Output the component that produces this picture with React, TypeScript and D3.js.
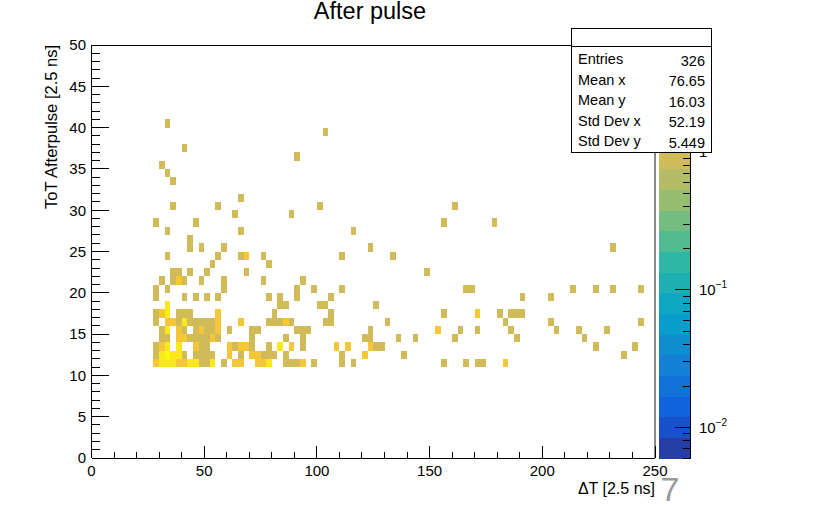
import React from "react";
import * as d3 from "d3";

const W = 820;
const H = 505;
const frame = { left: 91.5, right: 655, top: 45, bottom: 458 };
const palette = { left: 658.5, right: 690.5 };

// Histogram binning
const dtDomain: [number, number] = [0, 250];
const totDomain: [number, number] = [0, 50];
const dtBinWidth = 2.5;
const totBinWidth = 1;

// ToT bin (lower edge) of each filled row
const totBins = [40, 39, 37, 36, 35, 34, 33, 31, 30, 29, 28, 27, 26, 25, 24, 23, 22, 21, 20, 19, 18, 17, 16, 15, 14, 13, 12, 11];

// Filled ΔT bins in each row: [ΔT bin index, entries]
const dtBinsPerRow: [number, number][][] = [
  [[13, 1]],
  [[41, 1]],
  [[16, 1]],
  [[36, 1]],
  [[12, 1]],
  [[13, 1]],
  [[14, 1]],
  [[26, 1]],
  [[14, 1], [22, 1], [40, 1], [64, 1]],
  [[25, 1], [35, 1]],
  [[11, 1], [18, 1], [62, 1], [71, 1]],
  [[13, 1], [26, 1], [46, 1]],
  [[17, 1]],
  [[17, 1], [19, 1], [23, 1], [49, 1], [92, 1]],
  [[13, 1], [22, 1], [26, 1], [27, 2], [30, 1], [44, 1], [53, 1]],
  [[21, 1], [31, 1]],
  [[14, 1], [15, 1], [17, 1], [20, 1], [27, 1], [59, 1]],
  [[12, 1], [14, 1], [15, 2], [16, 1], [19, 1], [23, 1], [30, 1], [37, 1]],
  [[11, 1], [13, 1], [23, 1], [36, 1], [39, 1], [44, 1], [66, 1], [67, 1], [85, 1], [89, 1], [92, 1], [97, 1]],
  [[11, 1], [16, 1], [18, 1], [20, 1], [22, 1], [31, 1], [33, 1], [36, 1], [42, 1], [76, 1], [81, 1]],
  [[13, 4], [33, 1], [34, 1], [40, 1], [41, 1], [50, 1]],
  [[11, 1], [12, 2], [13, 4], [15, 1], [16, 1], [17, 1], [22, 2], [32, 1], [42, 1], [62, 1], [68, 2], [72, 1], [74, 1], [75, 1], [76, 1]],
  [[11, 1], [13, 2], [14, 2], [15, 1], [16, 4], [17, 1], [18, 1], [19, 1], [20, 1], [21, 1], [22, 2], [26, 2], [31, 1], [32, 1], [33, 1], [34, 2], [35, 1], [41, 1], [42, 1], [52, 1], [73, 1], [81, 1], [97, 1]],
  [[12, 1], [13, 4], [15, 2], [16, 1], [18, 1], [19, 2], [20, 1], [21, 1], [22, 2], [24, 1], [28, 1], [29, 1], [36, 1], [37, 1], [38, 1], [49, 1], [61, 2], [65, 1], [68, 1], [74, 1], [82, 1], [86, 1], [91, 1]],
  [[12, 1], [13, 1], [15, 2], [16, 2], [17, 1], [18, 1], [19, 1], [20, 1], [21, 2], [22, 1], [28, 1], [34, 1], [37, 1], [48, 1], [49, 1], [54, 1], [57, 1], [64, 1], [75, 1], [87, 1]],
  [[11, 1], [12, 2], [13, 4], [15, 4], [18, 2], [19, 1], [20, 1], [24, 2], [25, 1], [26, 2], [27, 2], [28, 1], [31, 1], [33, 4], [35, 2], [37, 1], [43, 2], [45, 2], [49, 2], [50, 1], [51, 1], [89, 1], [96, 1]],
  [[11, 1], [12, 4], [13, 6], [14, 4], [15, 3], [16, 1], [18, 1], [19, 1], [20, 1], [21, 1], [24, 2], [26, 1], [28, 2], [29, 2], [30, 1], [31, 1], [32, 1], [34, 1], [44, 1], [48, 2], [55, 1], [94, 1]],
  [[11, 2], [12, 4], [13, 4], [14, 4], [15, 2], [16, 2], [17, 4], [18, 4], [19, 1], [20, 1], [21, 3], [23, 1], [25, 2], [26, 2], [29, 2], [30, 2], [31, 4], [34, 1], [35, 1], [36, 1], [37, 2], [39, 1], [44, 1], [46, 1], [62, 1], [66, 1], [68, 1], [69, 1], [73, 2]],
];

// Statistics panel
const statLabels = ["Entries", "Mean x", "Mean y", "Std Dev x", "Std Dev y"];
const statValues = ["326", "76.65", "16.03", "52.19", "5.449"];

// Axis ticks
const dtMajorTicks = [0, 50, 100, 150, 200, 250];
const totMajorTicks = [0, 5, 10, 15, 20, 25, 30, 35, 40, 45, 50];
const zLabels: [number, string, string][] = [
  [1, "1", ""],
  [0.1, "10", "\u22121"],
  [0.01, "10", "\u22122"],
];

// Colour scale (log z)
const zMin = 0.006;
const zMax = 6;
const nContours = 20;
const nColors = 255;

// Bird palette gradient stops
const birdStops = [0.0, 0.125, 0.25, 0.375, 0.5, 0.625, 0.75, 0.875, 1.0];
const birdRed = [0.2082, 0.0592, 0.078, 0.0232, 0.1802, 0.5301, 0.8186, 0.9956, 0.9764];
const birdGreen = [0.1664, 0.3599, 0.5041, 0.6419, 0.7178, 0.7492, 0.7328, 0.7862, 0.9832];
const birdBlue = [0.5293, 0.8684, 0.8385, 0.7914, 0.6425, 0.4662, 0.3499, 0.1968, 0.0539];

const font = "'Liberation Sans', Arial, Helvetica, sans-serif";

function birdColor(f: number): string {
  const r = d3.scaleLinear(birdStops, birdRed).clamp(true)(f);
  const g = d3.scaleLinear(birdStops, birdGreen).clamp(true)(f);
  const b = d3.scaleLinear(birdStops, birdBlue).clamp(true)(f);
  return d3.rgb(r * 255, g * 255, b * 255).formatHex();
}

function bandColor(band: number): string {
  const idx = Math.floor((band + 0.99) * nColors / nContours);
  return birdColor(idx / (nColors - 1));
}

function bandOf(z: number): number {
  const lz = Math.log10(z);
  const l0 = Math.log10(zMin);
  const l1 = Math.log10(zMax);
  const b = Math.floor(0.01 + (lz - l0) * nContours / (l1 - l0));
  return Math.max(0, Math.min(nContours - 1, b));
}

export default function App() {
  const x = d3.scaleLinear().domain(dtDomain).range([frame.left, frame.right]);
  const y = d3.scaleLinear().domain(totDomain).range([frame.bottom, frame.top]);
  const z = d3.scaleLog().domain([zMin, zMax]).range([frame.bottom, frame.top]);

  const cells = totBins.flatMap((tot, r) =>
    dtBinsPerRow[r].map(([bin, n]) => ({ dt: bin * dtBinWidth, tot, n }))
  );

  const dtMinor = d3.range(dtDomain[0], dtDomain[1] + 0.001, 10);
  const totMinor = d3.range(totDomain[0], totDomain[1] + 0.001, 1);

  const zMinorTicks: number[] = [];
  for (let e = -3; e <= 0; e++) {
    for (let m = 1; m <= 9; m++) {
      const v = m * Math.pow(10, e);
      if (v >= zMin && v <= zMax) zMinorTicks.push(v);
    }
  }

  const bandH = (frame.bottom - frame.top) / nContours;
  const bands = d3.range(nContours);

  const statBox = { left: 571, right: 711, top: 28, bottom: 152, divider: 46 };
  const statRowY = [59, 79.5, 100, 120.5, 141];

  return (
    <svg
      width={W}
      height={H}
      viewBox={`0 0 ${W} ${H}`}
      style={{ position: "absolute", left: 0, top: 0, background: "#fff" }}
      fontFamily={font}
    >
      <rect x={0} y={0} width={W} height={H} fill="#fff" />

      {/* title */}
      <text x={370} y={19} textAnchor="middle" fontSize={23.5} fill="#000">
        After pulse
      </text>

      {/* histogram cells */}
      <g shapeRendering="crispEdges">
        {cells.map((c, i) => (
          <rect
            key={i}
            x={x(c.dt)}
            y={y(c.tot + totBinWidth)}
            width={x(c.dt + dtBinWidth) - x(c.dt)}
            height={y(c.tot) - y(c.tot + totBinWidth)}
            fill={bandColor(bandOf(c.n))}
          />
        ))}
      </g>

      {/* frame */}
      <g shapeRendering="crispEdges" fill="none">
        <line x1={frame.left} x2={frame.right} y1={frame.top} y2={frame.top} stroke="#000" />
        <line x1={frame.right} x2={frame.right} y1={frame.top} y2={frame.bottom} stroke="#888" strokeWidth={2} />
        <line x1={frame.left} x2={frame.left} y1={frame.top} y2={frame.bottom} stroke="#000" />
        <line x1={frame.left} x2={frame.right} y1={frame.bottom} y2={frame.bottom} stroke="#000" />
      </g>

      {/* x axis ticks */}
      <g stroke="#000" shapeRendering="crispEdges">
        {dtMinor.map((v) => {
          const major = v % 50 === 0;
          return (
            <line key={v} x1={x(v)} x2={x(v)} y1={frame.bottom} y2={frame.bottom - (major ? 12.4 : 6.2)} />
          );
        })}
      </g>
      <g fontSize={15} textAnchor="middle" fill="#000">
        {dtMajorTicks.map((v) => (
          <text key={v} x={x(v)} y={476}>
            {v}
          </text>
        ))}
      </g>
      <text x={frame.right} y={494} textAnchor="end" fontSize={16} fill="#000">
        ΔT [2.5 ns]
      </text>
      <text x={670} y={501} textAnchor="middle" fontSize={34} fill="#9a9a9a">
        7
      </text>

      {/* y axis ticks */}
      <g stroke="#000" shapeRendering="crispEdges">
        {totMinor.map((v) => {
          const major = v % 5 === 0;
          return (
            <line key={v} x1={frame.left} x2={frame.left + (major ? 17 : 8.5)} y1={y(v)} y2={y(v)} />
          );
        })}
      </g>
      <g fontSize={15} textAnchor="end" fill="#000">
        {totMajorTicks.map((v) => (
          <text key={v} x={86} y={y(v) + 5.3}>
            {v}
          </text>
        ))}
      </g>
      <text
        transform={`translate(57,${frame.top}) rotate(-90)`}
        textAnchor="end"
        fontSize={16.5}
        fill="#000"
      >
        ToT Afterpulse [2.5 ns]
      </text>

      {/* colour palette */}
      <g shapeRendering="crispEdges">
        {bands.map((b) => (
          <rect
            key={b}
            x={palette.left}
            y={frame.bottom - (b + 1) * bandH}
            width={palette.right - palette.left}
            height={bandH + 0.5}
            fill={bandColor(b)}
          />
        ))}
        <line x1={palette.right} x2={palette.right} y1={frame.top} y2={frame.bottom} stroke="#000" />
      </g>
      <g stroke="#000" shapeRendering="crispEdges">
        {zMinorTicks.map((v, i) => {
          const major = Math.abs(Math.log10(v) - Math.round(Math.log10(v))) < 1e-9;
          return (
            <line key={i} x1={palette.right} x2={palette.right - (major ? 16 : 8)} y1={z(v)} y2={z(v)} />
          );
        })}
      </g>
      <g fontSize={15} fill="#000">
        {zLabels.map(([v, base, exp]) => (
          <text key={v} x={699} y={z(v) + 5.3}>
            {base}
            {exp && (
              <tspan fontSize={10} dy={-7}>
                {exp}
              </tspan>
            )}
          </text>
        ))}
      </g>

      {/* statistics box */}
      <g>
        <rect
          x={statBox.left}
          y={statBox.top}
          width={statBox.right - statBox.left}
          height={statBox.bottom - statBox.top}
          fill="#fff"
          stroke="#000"
          shapeRendering="crispEdges"
        />
        <line
          x1={statBox.left}
          x2={statBox.right}
          y1={statBox.divider}
          y2={statBox.divider}
          stroke="#000"
          shapeRendering="crispEdges"
        />
        {statLabels.map((s, i) => (
          <text key={s} x={578} y={statRowY[i] + 5} fontSize={14.5} fill="#000">
            {s}
          </text>
        ))}
        {statValues.map((s, i) => (
          <text key={i} x={705} y={statRowY[i] + 6.5} fontSize={14.5} textAnchor="end" fill="#000">
            {s}
          </text>
        ))}
      </g>
    </svg>
  );
}
